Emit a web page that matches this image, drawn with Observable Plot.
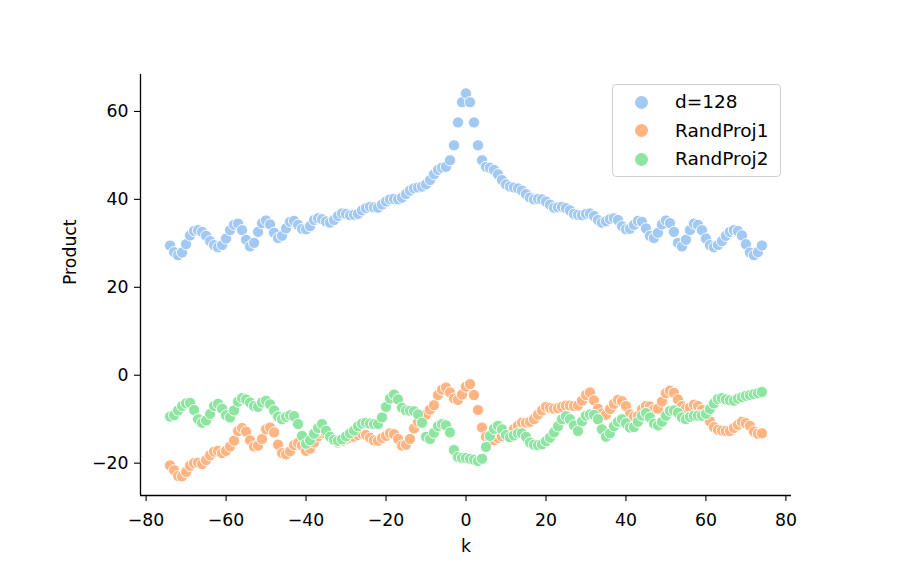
<!DOCTYPE html>
<html>
<head>
<meta charset="utf-8">
<script src="https://cdn.jsdelivr.net/npm/d3@7"></script>
<script src="https://cdn.jsdelivr.net/npm/@observablehq/plot@0.6"></script>
<style>
  html, body { margin: 0; padding: 0; background: #fff; }
  #wrap { position: relative; width: 914px; height: 582px; font-family: "DejaVu Sans", sans-serif; }
  #legend { position: absolute; left: 612px; top: 84px; width: 167px; height: 91px;
    border: 1px solid #d0d0d0; border-radius: 4px; background: rgba(255,255,255,0.8); box-sizing: content-box; }
  .row { position: absolute; left: 0; height: 24px; display: flex; align-items: center; }
  .sw { position: absolute; left: 22px; width: 13px; height: 13px; border-radius: 50%; }
  .lab { position: absolute; left: 62px; font-size: 18.5px; color: #000; white-space: nowrap; line-height: 24px; }
</style>
</head>
<body>
<div id="wrap"></div>
<script>
// x positions (lag k)
const kValues = d3.range(-74, 75);

const seriesNames = ["d=128", "RandProj1", "RandProj2"];
const seriesColors = ["#a1c9f4", "#ffb482", "#8de5a1"];

const d128 = [
  29.5,28.0,27.3,27.9,29.8,31.8,32.8,33.0,32.6,31.7,30.5,29.6,29.1,29.6,31.1,33.0,34.2,34.5,33.0,30.8,
  29.3,30.1,32.6,34.6,35.2,34.3,32.4,31.2,31.7,33.4,34.9,35.1,34.2,33.3,33.2,33.9,35.3,35.7,35.5,35.0,
  34.7,35.3,36.2,36.8,36.7,36.4,36.5,36.7,37.5,38.0,38.3,38.2,38.1,38.8,39.5,40.0,40.1,40.0,40.4,41.2,
  42.0,42.5,42.7,42.9,43.4,44.4,45.7,46.7,47.2,47.4,48.9,52.3,57.5,62.1,64.1,
  62.1,57.5,52.3,48.9,47.4,47.2,46.7,45.7,44.4,43.4,42.9,42.7,42.5,42.0,41.2,40.4,40.0,40.1,40.0,39.5,
  38.8,38.1,38.2,38.3,38.0,37.5,36.7,36.5,36.4,36.7,36.8,36.2,35.3,34.7,35.0,35.5,35.7,35.3,33.9,33.2,
  33.3,34.2,35.1,34.9,33.4,31.7,31.2,32.4,34.3,35.2,34.6,32.6,30.1,29.3,30.8,33.0,34.5,34.2,33.0,31.1,
  29.6,29.1,29.6,30.5,31.7,32.6,33.0,32.8,31.8,29.8,27.9,27.3,28.0,29.5
];

const randProj1 = [
  -20.5,-21.6,-22.9,-23.0,-22.0,-20.6,-20.0,-19.9,-20.2,-19.3,-18.2,-17.4,-17.2,-17.7,-17.2,-16.2,-14.9,-12.7,-12.0,-12.8,
  -14.8,-16.2,-16.0,-14.5,-12.3,-11.9,-13.0,-15.8,-17.7,-18.0,-17.3,-15.9,-15.4,-16.0,-17.2,-16.7,
  -15.3,-13.9,-13.2,-13.3,-13.8,-14.6,-15.3,-15.0,-14.5,-14.2,
  -14.0,-13.6,-13.3,-13.6,-14.2,-14.8,-14.9,-14.3,-13.8,-13.2,
  -13.4,-14.5,-16.0,-15.8,-14.5,-12.1,-10.6,-9.6,-9.0,-7.8,
  -6.8,-4.5,-3.3,-2.8,-3.9,-5.3,-5.6,-4.4,-2.6,
  -2.0,-4.5,-7.9,-11.9,-14.0,-14.5,-14.8,-14.3,-13.9,-13.4,
  -13.0,-12.3,-11.5,-10.8,-10.8,-10.6,-10.0,-9.0,-8.0,-7.2,
  -7.4,-7.6,-7.5,-7.2,-6.9,-6.9,-7.0,-6.9,-5.8,-4.5,
  -3.9,-5.7,-7.6,-8.7,-9.0,-7.7,-6.5,-5.6,-5.9,-7.0,
  -8.9,-9.4,-9.3,-7.8,-7.0,-7.1,-7.8,-7.6,-6.0,-4.1,
  -3.5,-4.0,-5.5,-7.0,-7.6,-7.4,-6.7,-7.0,-7.9,-9.0,
  -10.5,-11.8,-12.4,-12.6,-12.7,-12.7,-12.0,-11.3,-10.6,-10.9,
  -11.5,-12.8,-13.3,-13.2
];

const randProj2 = [
  -9.4,-9.1,-8.0,-7.0,-6.4,-6.3,-7.9,-10.0,-10.8,-10.3,
  -8.8,-7.0,-6.5,-7.6,-9.1,-9.6,-8.0,-6.0,-5.2,-5.5,
  -6.2,-7.0,-7.2,-6.2,-5.8,-6.6,-8.0,-9.4,-10.0,-9.5,
  -9.1,-9.3,-11.1,-13.8,-15.6,-14.8,-13.3,-12.0,-11.1,-12.6,
  -14.0,-14.7,-14.9,-14.6,-13.9,-13.2,-12.6,-11.6,-11.0,-10.8,
  -11.0,-11.1,-11.1,-9.6,-7.2,-5.3,-4.4,-5.5,-7.4,-8.0,
  -8.1,-8.2,-8.9,-10.8,-14.0,-14.5,-13.1,-11.6,-11.1,-11.4,
  -13.0,-17.0,-18.6,-18.8,-18.8,
  -19.0,-19.2,-19.5,-19.0,-16.3,-13.8,-12.2,-11.5,-12.3,-13.6,
  -14.1,-13.7,-13.2,-13.2,-14.0,-15.3,-15.8,-15.9,-15.7,-15.0,
  -14.2,-13.0,-11.6,-10.0,-9.3,-10.0,-11.4,-12.7,-10.5,-9.2,
  -8.9,-9.0,-10.0,-12.3,-14.0,-13.2,-11.6,-10.6,-10.0,-10.9,
  -11.9,-11.8,-10.6,-9.2,-8.6,-9.6,-11.0,-11.4,-10.6,-9.2,
  -8.1,-8.0,-8.5,-9.6,-10.0,-9.5,-9.2,-9.2,-9.2,-8.8,
  -7.7,-6.4,-5.4,-5.2,-5.5,-5.7,-5.8,-5.3,-5.0,-4.7,
  -4.5,-4.3,-4.1,-3.8
];

const xTicks = [-80, -60, -40, -20, 0, 20, 40, 60, 80];
const yTicks = [-20, 0, 20, 40, 60];

const allSeries = [d128, randProj1, randProj2];
const rows = [];
allSeries.forEach((vals, s) => {
  vals.forEach((v, i) => rows.push({k: kValues[i], v, series: seriesNames[s]}));
});

const xDomain = [-81.4, 81.4];
const yDomain = [-27.35, 68.4];
const font = "DejaVu Sans, sans-serif";
const minusFmt = d => d < 0 ? "\u2212" + Math.abs(d) : String(d);

const chart = Plot.plot({
  width: 914,
  height: 582,
  marginLeft: 140,
  marginRight: 123,
  marginTop: 74,
  marginBottom: 87,
  style: {fontFamily: font, background: "#fff", color: "#000", overflow: "visible"},
  x: {domain: xDomain},
  y: {domain: yDomain},
  color: {domain: seriesNames, range: seriesColors},
  marks: [
    Plot.axisX(xTicks, {tickSize: 6, tickPadding: 12, fontSize: 17.3, label: null, stroke: "#000", strokeWidth: 1.1, strokeOpacity: 1, tickFormat: minusFmt}),
    Plot.axisY(yTicks, {tickSize: 6, tickPadding: 6, fontSize: 17.3, label: null, stroke: "#000", strokeWidth: 1.1, strokeOpacity: 1, tickFormat: minusFmt}),
    Plot.dot(rows, {x: "k", y: "v", fill: "series", r: 5.6, stroke: "#fff", strokeWidth: 0.9}),
    Plot.ruleX([xDomain[0]], {stroke: "#000", strokeWidth: 1.3}),
    Plot.ruleY([yDomain[0]], {stroke: "#000", strokeWidth: 1.3}),
    Plot.text(["k"], {frameAnchor: "bottom", dy: 51, fontSize: 17.3, fill: "#000", lineAnchor: "middle"}),
    Plot.text(["Product"], {frameAnchor: "left", dx: -70, rotate: -90, fontSize: 17.3, fill: "#000", lineAnchor: "middle"})
  ]
});

const wrap = document.getElementById("wrap");
wrap.appendChild(chart);

const legend = document.createElement("div");
legend.id = "legend";
seriesNames.forEach((name, i) => {
  const row = document.createElement("div");
  row.className = "row";
  row.style.top = (5 + i * 28.5) + "px";
  row.style.width = "100%";
  const sw = document.createElement("div");
  sw.className = "sw";
  sw.style.background = seriesColors[i];
  sw.style.top = "5.5px";
  const lab = document.createElement("div");
  lab.className = "lab";
  lab.textContent = name;
  lab.style.top = "0px";
  row.appendChild(sw);
  row.appendChild(lab);
  legend.appendChild(row);
});
wrap.appendChild(legend);
</script>
</body>
</html>
